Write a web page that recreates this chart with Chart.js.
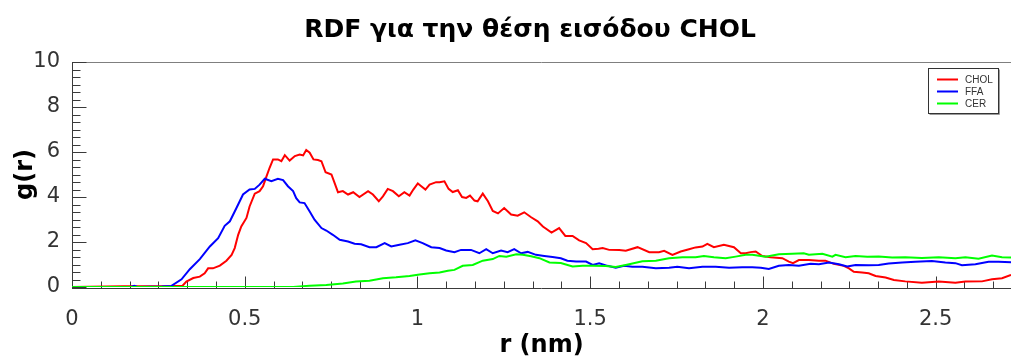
<!DOCTYPE html>
<html>
<head>
<meta charset="utf-8">
<script src="https://cdn.jsdelivr.net/npm/chart.js@4/dist/chart.umd.min.js"></script>
<style>
  html, body { margin: 0; padding: 0; background: #ffffff; }
  #wrap { width: 1011px; height: 358px; }
</style>
</head>
<body>
<div id="wrap"><canvas id="rdf" width="1011" height="358"></canvas></div>
<script>
// Labels
const titleText = 'RDF για την θέση εισόδου CHOL';
const xAxisLabel = 'r (nm)';
const yAxisLabel = 'g(r)';
const seriesNames = ['CHOL', 'FFA', 'CER'];
const seriesColors = ['#ff0000', '#0000ff', '#00ff00'];
const xTicks = [0, 0.5, 1, 1.5, 2, 2.5];
const yTicks = [0, 2, 4, 6, 8, 10];
const xMax = 2.718;
const yMax = 10;

// CHOL
const rChol = [0, 0.15, 0.29, 0.320, 0.331, 0.351, 0.370, 0.384, 0.394, 0.408, 0.428, 0.447, 0.462, 0.471, 0.481, 0.490, 0.505, 0.514, 0.529, 0.543, 0.553, 0.563, 0.572, 0.582, 0.596, 0.606, 0.616, 0.630, 0.645, 0.659, 0.669, 0.678, 0.688, 0.699, 0.712, 0.722, 0.734, 0.751, 0.760, 0.770, 0.784, 0.799, 0.814, 0.832, 0.857, 0.871, 0.888, 0.900, 0.914, 0.929, 0.946, 0.962, 0.977, 0.988, 1.001, 1.011, 1.023, 1.035, 1.054, 1.064, 1.078, 1.090, 1.102, 1.117, 1.129, 1.141, 1.152, 1.165, 1.174, 1.189, 1.204, 1.218, 1.233, 1.251, 1.271, 1.290, 1.309, 1.329, 1.348, 1.363, 1.388, 1.410, 1.428, 1.449, 1.468, 1.488, 1.507, 1.524, 1.536, 1.555, 1.584, 1.603, 1.637, 1.671, 1.699, 1.714, 1.738, 1.762, 1.786, 1.805, 1.825, 1.839, 1.858, 1.887, 1.916, 1.936, 1.950, 1.964, 1.979, 1.998, 2.022, 2.056, 2.075, 2.087, 2.104, 2.133, 2.162, 2.181, 2.205, 2.234, 2.249, 2.263, 2.287, 2.306, 2.326, 2.355, 2.379, 2.412, 2.460, 2.509, 2.557, 2.586, 2.634, 2.663, 2.692, 2.718];
const gChol = [0, 0.03, 0.04, 0.06, 0.24, 0.40, 0.46, 0.61, 0.83, 0.83, 0.95, 1.17, 1.43, 1.73, 2.32, 2.69, 3.07, 3.58, 4.15, 4.26, 4.48, 4.92, 5.30, 5.67, 5.67, 5.59, 5.86, 5.62, 5.82, 5.89, 5.85, 6.09, 5.97, 5.67, 5.64, 5.59, 5.10, 5.00, 4.63, 4.21, 4.26, 4.11, 4.21, 4.00, 4.26, 4.11, 3.81, 4.03, 4.36, 4.26, 4.03, 4.21, 4.06, 4.33, 4.60, 4.48, 4.33, 4.55, 4.66, 4.66, 4.70, 4.36, 4.22, 4.30, 4.00, 3.96, 4.06, 3.84, 3.81, 4.15, 3.81, 3.38, 3.27, 3.51, 3.22, 3.17, 3.32, 3.10, 2.92, 2.69, 2.42, 2.62, 2.27, 2.27, 2.07, 1.95, 1.68, 1.70, 1.73, 1.65, 1.64, 1.61, 1.77, 1.55, 1.55, 1.61, 1.43, 1.58, 1.68, 1.76, 1.80, 1.92, 1.77, 1.88, 1.77, 1.50, 1.50, 1.55, 1.58, 1.38, 1.32, 1.28, 1.13, 1.06, 1.20, 1.20, 1.17, 1.17, 1.03, 0.94, 0.83, 0.68, 0.64, 0.61, 0.49, 0.42, 0.31, 0.25, 0.19, 0.24, 0.19, 0.24, 0.25, 0.34, 0.39, 0.54];

// FFA
const rFfa = [0, 0.17, 0.18, 0.19, 0.26, 0.288, 0.317, 0.341, 0.370, 0.399, 0.423, 0.442, 0.457, 0.476, 0.495, 0.514, 0.529, 0.543, 0.558, 0.577, 0.596, 0.611, 0.625, 0.640, 0.649, 0.659, 0.673, 0.688, 0.702, 0.722, 0.736, 0.755, 0.775, 0.799, 0.818, 0.837, 0.861, 0.881, 0.905, 0.924, 0.948, 0.972, 0.994, 1.015, 1.040, 1.064, 1.083, 1.107, 1.126, 1.155, 1.179, 1.199, 1.218, 1.242, 1.261, 1.280, 1.300, 1.319, 1.343, 1.367, 1.391, 1.415, 1.434, 1.459, 1.488, 1.507, 1.526, 1.550, 1.574, 1.598, 1.622, 1.651, 1.690, 1.728, 1.752, 1.786, 1.825, 1.863, 1.902, 1.940, 1.969, 1.994, 2.017, 2.046, 2.075, 2.104, 2.138, 2.162, 2.191, 2.220, 2.244, 2.268, 2.306, 2.335, 2.364, 2.403, 2.441, 2.489, 2.528, 2.557, 2.576, 2.615, 2.653, 2.682, 2.718];
const gFfa = [0, 0, 0.05, 0, 0.02, 0.05, 0.34, 0.79, 1.24, 1.80, 2.17, 2.72, 2.92, 3.51, 4.11, 4.33, 4.36, 4.55, 4.81, 4.70, 4.81, 4.75, 4.48, 4.26, 3.95, 3.76, 3.73, 3.36, 2.99, 2.62, 2.51, 2.32, 2.10, 2.02, 1.92, 1.90, 1.77, 1.77, 1.95, 1.80, 1.88, 1.95, 2.07, 1.95, 1.77, 1.73, 1.62, 1.55, 1.65, 1.65, 1.50, 1.68, 1.50, 1.62, 1.55, 1.68, 1.50, 1.56, 1.43, 1.38, 1.33, 1.28, 1.17, 1.13, 1.13, 0.98, 1.05, 0.94, 0.86, 0.94, 0.90, 0.90, 0.83, 0.86, 0.90, 0.83, 0.90, 0.90, 0.86, 0.88, 0.88, 0.86, 0.80, 0.94, 0.98, 0.94, 1.03, 1.01, 1.09, 1.01, 0.91, 0.98, 0.97, 0.98, 1.04, 1.09, 1.12, 1.15, 1.09, 1.06, 0.97, 1.01, 1.12, 1.12, 1.10];

// CER
const rCer = [0, 0.64, 0.688, 0.736, 0.784, 0.822, 0.861, 0.900, 0.938, 0.977, 1.006, 1.035, 1.064, 1.088, 1.107, 1.131, 1.160, 1.189, 1.218, 1.237, 1.257, 1.286, 1.305, 1.329, 1.353, 1.382, 1.415, 1.449, 1.478, 1.507, 1.545, 1.574, 1.603, 1.651, 1.690, 1.728, 1.767, 1.805, 1.829, 1.858, 1.892, 1.921, 1.950, 1.969, 2.008, 2.046, 2.085, 2.118, 2.133, 2.172, 2.201, 2.210, 2.239, 2.268, 2.302, 2.335, 2.374, 2.412, 2.460, 2.509, 2.557, 2.586, 2.624, 2.663, 2.692, 2.718];
const gCer = [0, 0, 0.06, 0.09, 0.16, 0.24, 0.28, 0.39, 0.43, 0.49, 0.56, 0.61, 0.64, 0.72, 0.76, 0.94, 0.98, 1.17, 1.24, 1.38, 1.35, 1.45, 1.43, 1.37, 1.28, 1.09, 1.07, 0.91, 0.94, 0.94, 0.93, 0.89, 0.98, 1.14, 1.17, 1.28, 1.32, 1.32, 1.38, 1.32, 1.28, 1.35, 1.43, 1.43, 1.35, 1.46, 1.48, 1.50, 1.43, 1.48, 1.35, 1.43, 1.32, 1.38, 1.35, 1.36, 1.31, 1.32, 1.29, 1.32, 1.28, 1.32, 1.26, 1.40, 1.32, 1.31];

const toPoints = (rs, gs) => rs.map((r, i) => ({ x: r, y: gs[i] }));

const tickFont = { family: '"DejaVu Sans", Verdana, sans-serif', size: 21 };
const titleFont = { family: '"DejaVu Sans", Verdana, sans-serif', size: 24, weight: 'bold', lineHeight: 1 };

// Chart title
const headingPlugin = {
  id: 'heading',
  afterDraw(chart) {
    const ctx = chart.ctx;
    ctx.save();
    ctx.fillStyle = '#000000';
    ctx.font = 'bold 25px "DejaVu Sans", Verdana, sans-serif';
    ctx.textAlign = 'center';
    ctx.textBaseline = 'middle';
    ctx.fillText(titleText, 530, 30);
    ctx.restore();
  }
};

// Plot frame with inward major and minor tick marks
const framePlugin = {
  id: 'frame',
  beforeDatasetsDraw(chart) {
    const { ctx, chartArea: ca, scales: { x, y } } = chart;
    const xMinorStep = 1 / 12, yMinorStep = 1 / 3;
    const base = ca.bottom + 1.5;
    const left = ca.left + 0.5;
    ctx.save();
    ctx.lineWidth = 1;
    ctx.strokeStyle = '#7f7f7f';
    ctx.beginPath();
    ctx.moveTo(ca.left, ca.top + 0.5);
    ctx.lineTo(ca.right, ca.top + 0.5);
    ctx.stroke();
    ctx.strokeStyle = '#3a3a3a';
    ctx.beginPath();
    ctx.moveTo(left, ca.top);
    ctx.lineTo(left, base + 0.5);
    ctx.moveTo(ca.left, base);
    ctx.lineTo(ca.right, base);
    for (let k = 1; k * xMinorStep <= xMax; k++) {
      const px = Math.round(x.getPixelForValue(k * xMinorStep)) + 0.5;
      const len = k % 6 === 0 ? 12 : 7;
      ctx.moveTo(px, base);
      ctx.lineTo(px, base - len);
    }
    for (let k = 0; k * yMinorStep <= yMax + 1e-9; k++) {
      const py = Math.round(y.getPixelForValue(k * yMinorStep)) + 0.5;
      const len = k % 6 === 0 ? 14 : 8;
      ctx.moveTo(left, py);
      ctx.lineTo(left + len, py);
    }
    ctx.stroke();
    ctx.restore();
  }
};

// Boxed legend in the upper right corner of the plot
const boxLegendPlugin = {
  id: 'boxLegend',
  afterDatasetsDraw(chart) {
    const ctx = chart.ctx;
    const bx = 928.5, by = 68.5, bw = 70, bh = 45;
    ctx.save();
    ctx.fillStyle = '#ffffff';
    ctx.fillRect(bx, by, bw, bh);
    ctx.lineWidth = 1;
    ctx.strokeStyle = '#333333';
    ctx.strokeRect(bx, by, bw, bh);
    ctx.strokeStyle = '#9a9a9a';
    ctx.beginPath();
    ctx.moveTo(bx + bw + 1, by + 1);
    ctx.lineTo(bx + bw + 1, by + bh + 1);
    ctx.lineTo(bx + 1, by + bh + 1);
    ctx.stroke();
    ctx.font = '10px "Liberation Sans", Arial, sans-serif';
    ctx.textBaseline = 'middle';
    ctx.textAlign = 'left';
    chart.data.datasets.forEach((ds, i) => {
      const yy = 79.5 + i * 12;
      ctx.strokeStyle = ds.borderColor;
      ctx.lineWidth = 2;
      ctx.beginPath();
      ctx.moveTo(937, yy);
      ctx.lineTo(958, yy);
      ctx.stroke();
      ctx.fillStyle = '#333333';
      ctx.fillText(ds.label, 965, yy + 0.5);
    });
    ctx.restore();
  }
};

const makeSet = (i, rs, gs, order) => ({
  label: seriesNames[i],
  data: toPoints(rs, gs),
  borderColor: seriesColors[i],
  backgroundColor: seriesColors[i],
  borderWidth: 2,
  pointRadius: 0,
  tension: 0,
  fill: false,
  order: order
});

new Chart(document.getElementById('rdf'), {
  type: 'line',
  data: {
    datasets: [
      makeSet(0, rChol, gChol, 3),
      makeSet(1, rFfa, gFfa, 2),
      makeSet(2, rCer, gCer, 1)
    ]
  },
  options: {
    responsive: false,
    animation: false,
    devicePixelRatio: 1,
    layout: { padding: { top: 62, right: 0, bottom: 0, left: 0 } },
    plugins: {
      legend: { display: false },
      tooltip: { enabled: false },
      title: { display: false }
    },
    scales: {
      x: {
        type: 'linear',
        min: 0,
        max: xMax,
        afterBuildTicks: (s) => { s.ticks = xTicks.map(v => ({ value: v })); },
        afterFit: (s) => { s.height = 71; },
        ticks: { font: tickFont, color: '#333333', padding: 12, maxRotation: 0, callback: (v) => String(v) },
        grid: { display: false },
        border: { display: false },
        title: { display: true, text: xAxisLabel, font: titleFont, color: '#000000', padding: { top: 0, bottom: 0 } }
      },
      y: {
        type: 'linear',
        min: 0,
        max: yMax,
        afterBuildTicks: (s) => { s.ticks = yTicks.map(v => ({ value: v })); },
        afterFit: (s) => { s.width = 72; },
        ticks: { font: tickFont, color: '#333333', padding: 4, callback: (v) => String(v) },
        grid: { display: false },
        border: { display: false },
        title: { display: true, text: yAxisLabel, font: titleFont, color: '#000000', padding: { top: 14, bottom: 0 } }
      }
    }
  },
  plugins: [headingPlugin, framePlugin, boxLegendPlugin]
});
</script>
</body>
</html>
